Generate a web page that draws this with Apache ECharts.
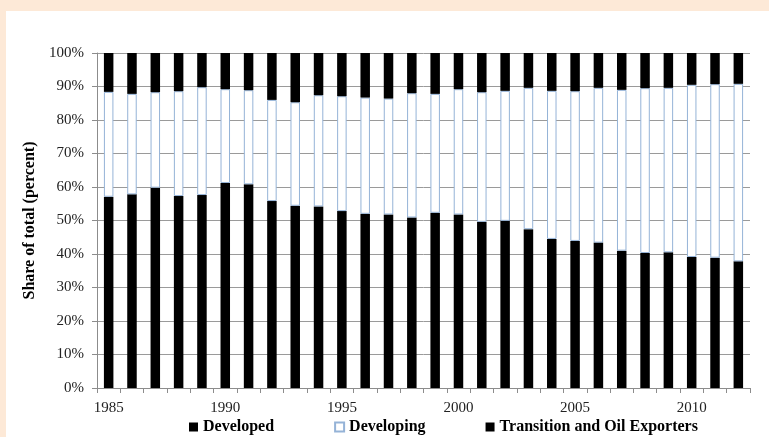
<!DOCTYPE html>
<html>
<head>
<meta charset="utf-8">
<script src="https://cdn.jsdelivr.net/npm/echarts@6/dist/echarts.min.js"></script>
<style>
html,body{margin:0;padding:0;}
#wrap{position:relative;width:769px;height:437px;background:#fde9d7;overflow:hidden;}
#chart{position:absolute;left:6px;top:11px;width:763px;height:426px;background:#ffffff;}
</style>
</head>
<body>
<div id="wrap"><div id="chart"></div></div>
<script>
const years = ['1985','1986','1987','1988','1989','1990','1991','1992','1993','1994','1995','1996','1997','1998','1999','2000','2001','2002','2003','2004','2005','2006','2007','2008','2009','2010','2011','2012'];
const developed = [57.1,57.8,59.8,57.3,57.6,61.2,60.8,55.8,54.4,54.2,52.8,52.0,51.8,50.9,52.3,51.8,49.6,49.9,47.4,44.5,43.9,43.4,41.0,40.3,40.5,39.1,38.9,37.8];
const developing = [31.3,30.0,28.5,31.3,32.2,28.0,28.1,30.2,30.9,33.2,34.3,34.7,34.6,37.1,35.5,37.4,38.7,38.8,42.2,44.2,44.7,46.2,48.0,49.2,49.1,51.4,51.8,53.0];
const transition = [11.6,12.2,11.7,11.4,10.2,10.8,11.1,14.0,14.7,12.6,12.9,13.3,13.6,12.0,12.2,10.8,11.7,11.3,10.4,11.3,11.4,10.4,11.0,10.5,10.4,9.5,9.3,9.2];

const serif = '"Liberation Serif","DejaVu Serif",serif';
const chart = echarts.init(document.getElementById('chart'));
const barW = 9.5;
chart.setOption({
  animation: false,
  grid: {left: 91, right: 19, top: 42, bottom: 49},
  legend: {
    left: 178, top: 403, icon: 'rect',
    itemWidth: 9, itemHeight: 9, itemGap: 60,
    textStyle: {fontFamily: serif, fontWeight: 'bold', fontSize: 16, color: '#000'},
    data: ['Developed','Developing','Transition and Oil Exporters']
  },
  xAxis: {
    type: 'category', data: years, boundaryGap: true,
    axisLine: {lineStyle: {color: '#8c8c8c'}},
    axisTick: {show: true, interval: 0, length: 5, lineStyle: {color: '#8c8c8c'}},
    axisLabel: {interval: 4, fontFamily: serif, fontSize: 15, color: '#222', margin: 13}
  },
  yAxis: {
    type: 'value', min: 0, max: 100, interval: 10,
    name: 'Share of total (percent)', nameLocation: 'middle', nameGap: 56, nameRotate: 90,
    nameTextStyle: {fontFamily: serif, fontWeight: 'bold', fontSize: 16, color: '#000'},
    axisLine: {show: true, lineStyle: {color: '#8c8c8c'}},
    axisTick: {show: true, length: 5, lineStyle: {color: '#8c8c8c'}},
    axisLabel: {formatter: '{value}%', fontFamily: serif, fontSize: 15, color: '#222', margin: 13},
    splitLine: {lineStyle: {color: '#9a9a9a'}}
  },
  series: [
    {name: 'Developed', type: 'bar', stack: 't', data: developed, barWidth: barW,
     itemStyle: {color: '#000'}},
    {name: 'Developing', type: 'bar', stack: 't', data: developing, barWidth: barW,
     itemStyle: {color: '#ffffff', borderColor: '#95b3d7', borderWidth: 1}},
    {name: 'Transition and Oil Exporters', type: 'bar', stack: 't', data: transition, barWidth: barW,
     itemStyle: {color: '#000'}}
  ]
});
</script>
</body>
</html>
